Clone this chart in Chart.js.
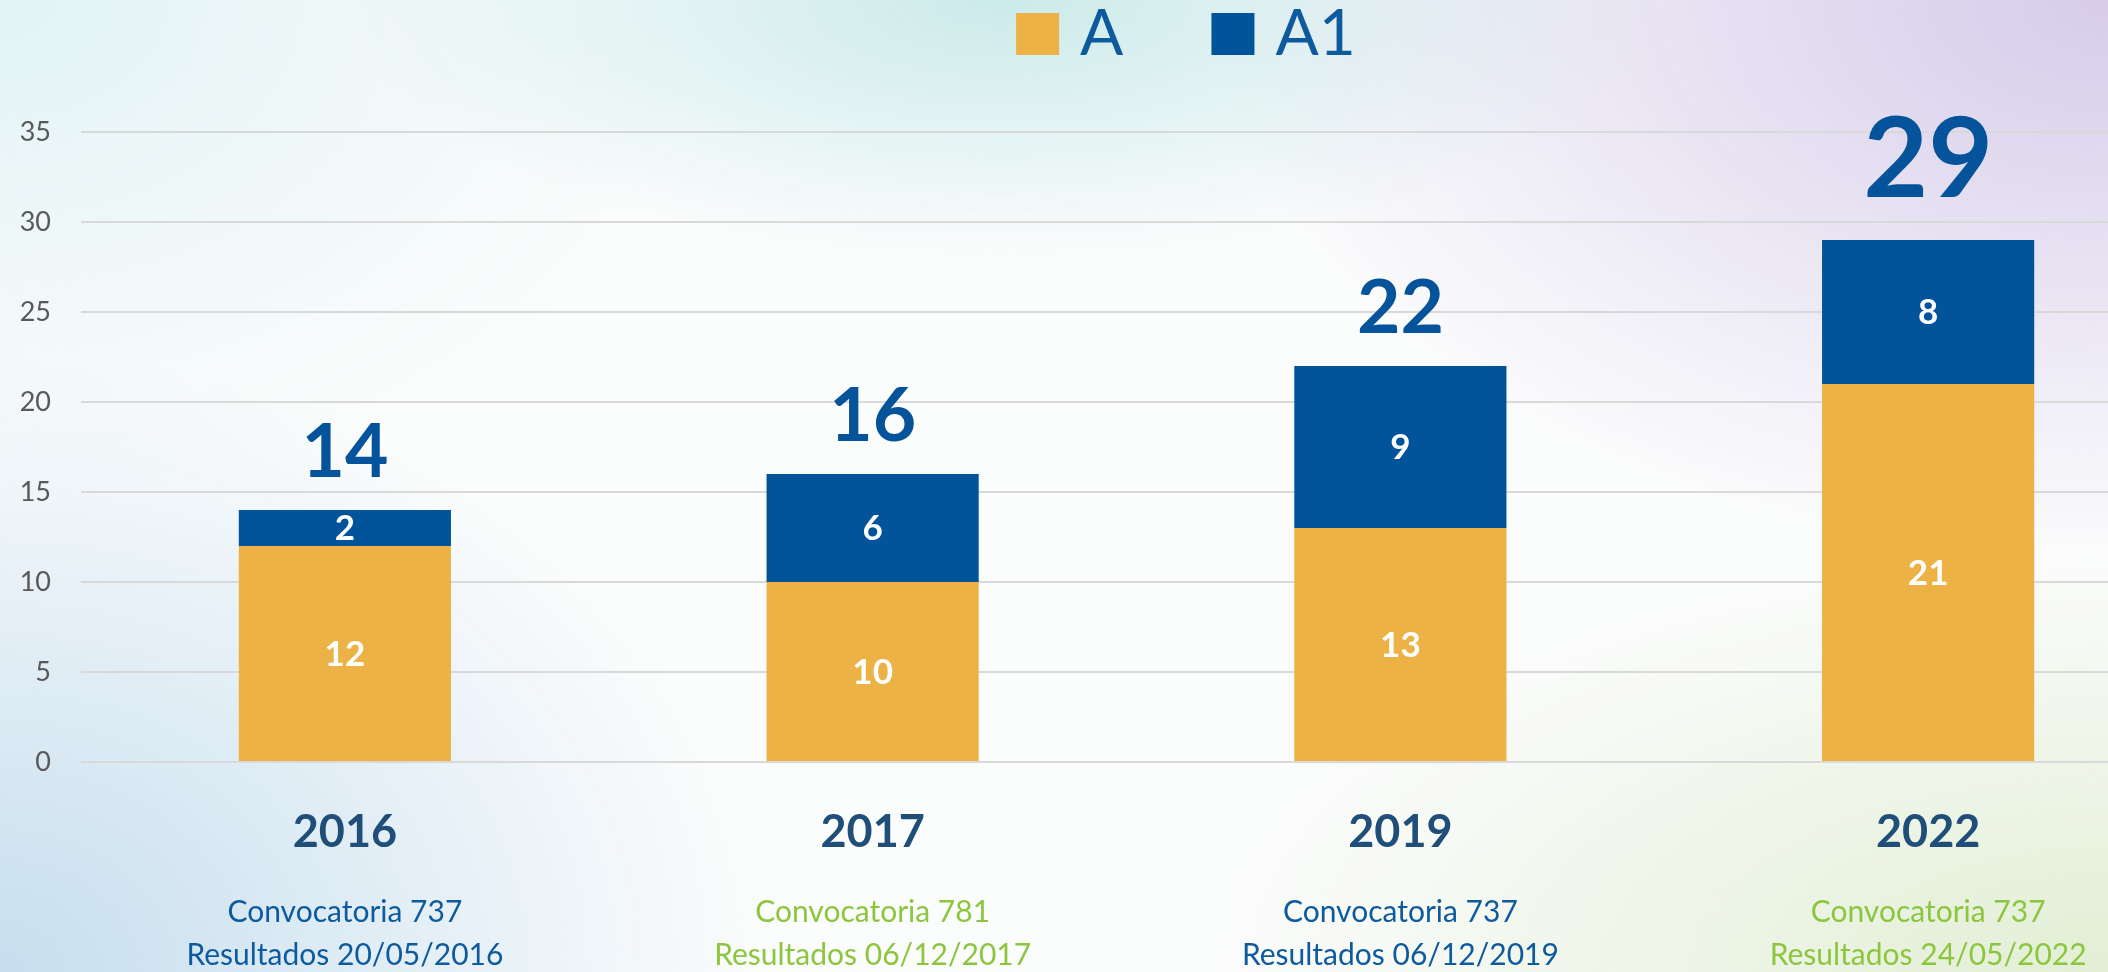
<!DOCTYPE html>
<html>
<head>
<meta charset="utf-8">
<script src="https://cdn.jsdelivr.net/npm/chart.js@4.4.1/dist/chart.umd.min.js"></script>
<style>
  html, body { margin: 0; padding: 0; width: 2108px; height: 972px; overflow: hidden; }
  body {
    background:
      radial-gradient(ellipse 650px 260px at 1000px 0px, rgba(188, 228, 228, 0.75), rgba(188, 228, 228, 0)),
      radial-gradient(ellipse 900px 560px at 2108px 0px, rgba(214, 204, 234, 1), rgba(214, 204, 234, 0)),
      radial-gradient(ellipse 900px 420px at 2108px 972px, rgba(226, 238, 212, 1), rgba(226, 238, 212, 0)),
      radial-gradient(ellipse 760px 620px at 0px 972px, rgba(198, 222, 238, 1), rgba(198, 222, 238, 0)),
      radial-gradient(ellipse 700px 500px at 0px 0px, rgba(226, 243, 245, 1), rgba(226, 243, 245, 0)),
      #fbfcfc;
  }
  #wrap { position: absolute; left: 0; top: 0; width: 2200px; height: 972px; }
</style>
</head>
<body>
<div id="wrap"><canvas id="grafico"></canvas></div>
<script>
const anos = ["2016", "2017", "2019", "2022"];
const convocatorias = ["Convocatoria 737", "Convocatoria 781", "Convocatoria 737", "Convocatoria 737"];
const resultados = ["Resultados 20/05/2016", "Resultados 06/12/2017", "Resultados 06/12/2019", "Resultados 24/05/2022"];
const valoresA = [12, 10, 13, 21];
const valoresA1 = [2, 6, 9, 8];
const series = ["A", "A1"];

const corA = "#ecb246";
const corA1 = "#01549a";
const azul = "#0d5a9e";
const verde = "#8cc63f";

// rotulos dentro das barras, totais e textos das categorias
const rotulos = {
  id: "rotulos",
  afterDatasetsDraw(chart) {
    const ctx = chart.ctx;
    const x = chart.scales.x;
    const y = chart.scales.y;
    ctx.save();
    ctx.textAlign = "center";

    // valores de cada segmento
    ctx.fillStyle = "#ffffff";
    ctx.textBaseline = "middle";
    ctx.font = "bold 35px Lato";
    chart.data.datasets.forEach((ds, di) => {
      chart.getDatasetMeta(di).data.forEach((barra, i) => {
        const c = barra.getCenterPoint();
        ctx.fillText(ds.data[i], c.x, c.y + 1);
      });
    });

    // totais
    ctx.textBaseline = "alphabetic";
    ctx.fillStyle = "#05539a";
    anos.forEach((ano, i) => {
      const total = valoresA[i] + valoresA1[i];
      const destaque = i === anos.length - 1;
      ctx.font = destaque ? "bold 112px Lato" : "bold 75px Lato";
      ctx.fillText(total, x.getPixelForValue(i), y.getPixelForValue(total) - (destaque ? 43 : 33));
    });

    // anos e convocatorias
    anos.forEach((ano, i) => {
      const cx = x.getPixelForValue(i);
      ctx.fillStyle = "#1f4e79";
      ctx.font = "bold 45px Lato";
      ctx.fillText(ano, cx, 847);
      ctx.fillStyle = i % 2 === 0 ? azul : verde;
      ctx.font = "30px Lato";
      ctx.fillText(convocatorias[i], cx, 922);
      ctx.fillText(resultados[i], cx, 965);
    });
    ctx.restore();
  },
  afterDraw(chart) {
    // legenda
    const ctx = chart.ctx;
    ctx.save();
    ctx.font = "64px Lato";
    const caixa = 43, folga = 21, entre = 88;
    const itens = chart.data.datasets.map((ds) => ({ texto: ds.label, cor: ds.backgroundColor }));
    let largura = 0;
    itens.forEach((it, i) => {
      largura += caixa + folga + ctx.measureText(it.texto).width + (i < itens.length - 1 ? entre : 0);
    });
    let px = 1186 - largura / 2;
    itens.forEach((it) => {
      ctx.fillStyle = it.cor;
      ctx.fillRect(px, 13, caixa, 42);
      px += caixa + folga;
      ctx.fillStyle = azul;
      ctx.textBaseline = "alphabetic";
      ctx.fillText(it.texto, px, 55);
      px += ctx.measureText(it.texto).width + entre;
    });
    ctx.restore();
  },
};

new Chart(document.getElementById("grafico"), {
  type: "bar",
  data: {
    labels: anos,
    datasets: [
      {
        label: series[0],
        data: valoresA,
        backgroundColor: corA,
        barPercentage: 1,
        categoryPercentage: 0.402,
      },
      {
        label: series[1],
        data: valoresA1,
        backgroundColor: corA1,
        barPercentage: 1,
        categoryPercentage: 0.402,
      },
    ],
  },
  options: {
    responsive: true,
    maintainAspectRatio: false,
    animation: false,
    layout: { padding: { top: 132, right: 8, left: 0, bottom: 0 } },
    plugins: {
      legend: { display: false },
      tooltip: { enabled: false },
    },
    scales: {
      x: {
        stacked: true,
        grid: { display: false },
        border: { display: false },
        ticks: { display: false },
        afterFit: (s) => { s.height = 210; },
      },
      y: {
        stacked: true,
        min: 0,
        max: 35,
        ticks: {
          stepSize: 5,
          padding: 30,
          color: "#595959",
          font: { family: "Lato", size: 27 },
        },
        grid: { color: "#d9d9d9", lineWidth: 2, drawTicks: false },
        border: { display: false },
        afterFit: (s) => { s.width = 81; },
      },
    },
  },
  plugins: [rotulos],
});
</script>
</body>
</html>
